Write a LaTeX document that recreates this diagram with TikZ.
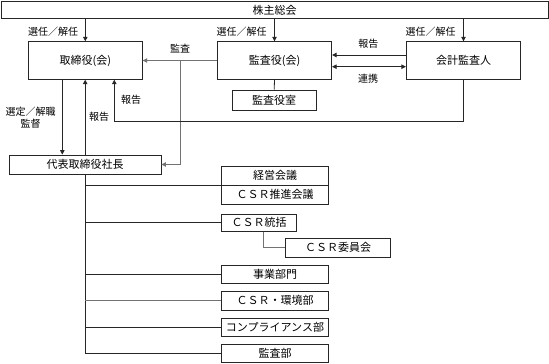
\documentclass[tikz,border=0pt]{standalone}
\usepackage{fontspec}
\setmainfont{Noto Sans CJK JP}
\usetikzlibrary{arrows.meta}
\begin{document}
\begin{tikzpicture}[x=1pt,y=-1pt,
  box/.style={draw=black!85,line width=0.8pt,inner sep=0pt,font=\fontsize{11}{13}\selectfont},
  lab/.style={inner sep=0pt,font=\fontsize{10}{12}\selectfont},
  con/.style={draw=black!85,line width=0.8pt},
  lcon/.style={draw=black!55,line width=0.8pt},
  arr/.style={-{Triangle[length=4.5pt,width=4.5pt]}}]
\useasboundingbox (0,0) rectangle (549,364);
% boxes
\node[box,minimum width=547pt,minimum height=17pt] (top) at (274.5,10) {株主総会};
\node[box,minimum width=114pt,minimum height=37.6pt] (tori) at (85.3,60.5) {取締役(会)};
\node[box,minimum width=114.4pt,minimum height=37.6pt] (kansa) at (274.5,60.5) {監査役(会)};
\node[box,minimum width=114.4pt,minimum height=37.6pt] (kaikei) at (463.5,60.5) {会計監査人};
\node[box,minimum width=83.7pt,minimum height=20pt] (shitsu) at (274.2,100) {監査役室};
\node[box,minimum width=151.7pt,minimum height=19pt] (daihyo) at (85.2,164.5) {代表取締役社長};
\node[box,minimum width=106.6pt,minimum height=18.3pt] (keiei) at (275,175.8) {経営会議};
\node[box,minimum width=106.6pt,minimum height=19pt] (suishin) at (275,194.5) {ＣＳＲ推進会議};
\node[box,minimum width=75pt,minimum height=17pt] (tokatsu) at (259.2,222.7) {ＣＳＲ統括};
\node[box,minimum width=105pt,minimum height=19pt] (iinkai) at (338.2,247.8) {ＣＳＲ委員会};
\node[box,minimum width=106.6pt,minimum height=18.5pt] (jigyo) at (275,274.2) {事業部門};
\node[box,minimum width=106.6pt,minimum height=18.5pt] (kankyo) at (275,300.8) {ＣＳＲ・環境部};
\node[box,minimum width=106.6pt,minimum height=18.5pt] (comp) at (275,327.5) {コンプライアンス部};
\node[box,minimum width=106.6pt,minimum height=18.5pt] (kansabu) at (275,353.3) {監査部};
% appointment arrows
\draw[con,arr] (tori.north |- top.south) -- (tori.north);
\draw[con,arr] (kansa.north |- top.south) -- (kansa.north);
\draw[con,arr] (kaikei.north |- top.south) -- (kaikei.north);
% audit
\coordinate (j1) at (180,60.5);
\draw[lcon,arr] (kansa.west) -- (tori.east);
\draw[lcon,arr] (j1) |- (daihyo.east);
% auditor relations
\draw[con,arr] ([yshift=5.5pt]kaikei.west) -- ([yshift=5.5pt]kansa.east);
\draw[con,{Triangle[length=4.5pt,width=4.5pt]}-{Triangle[length=4.5pt,width=4.5pt]}] ([yshift=-6.2pt]kansa.east) -- ([yshift=-6.2pt]kaikei.west);
\draw[con] (kansa.south) -- (shitsu.north);
% board - president
\draw[con,arr] ([xshift=-23pt]tori.south) -- ([xshift=-23pt]tori.south |- daihyo.north);
\draw[con,arr] (daihyo.north) -- (daihyo.north |- tori.south);
\coordinate (r1) at (114.3,121);
\draw[con,arr] (kaikei.south) |- (r1) -- (r1 |- tori.south);
% trunk
\draw[con] (daihyo.south) -- (daihyo.south |- kansabu.west) -- (kansabu.west);
\draw[con] (daihyo.south |- keiei.south west) -- (keiei.south west);
\draw[con] (daihyo.south |- tokatsu.west) -- (tokatsu.west);
\draw[con] (daihyo.south |- jigyo.west) -- (jigyo.west);
\draw[lcon] (daihyo.south |- kankyo.west) -- (kankyo.west);
\draw[con] (daihyo.south |- comp.west) -- (comp.west);
\draw[lcon] ([xshift=4.1pt]tokatsu.south) |- (iinkai.west);
% labels
\node[lab] (l1) at (53,31.7) {選任／解任};
\node[lab] (l2) at (241.7,31.7) {選任／解任};
\node[lab] (l3) at (430.7,31.7) {選任／解任};
\node[lab] (l4) at (180,49) {監査};
\node[lab] (l5) at (368.3,43.3) {報告};
\node[lab] (l6) at (368,79) {連携};
\node[lab] (l7) at (131,100) {報告};
\node[lab] (l8) at (99,117) {報告};
\node[lab] (l9) at (30.5,111.7) {選定／解職};
\node[lab] (l10) at (30.5,123.5) {監督};
\end{tikzpicture}
\end{document}
